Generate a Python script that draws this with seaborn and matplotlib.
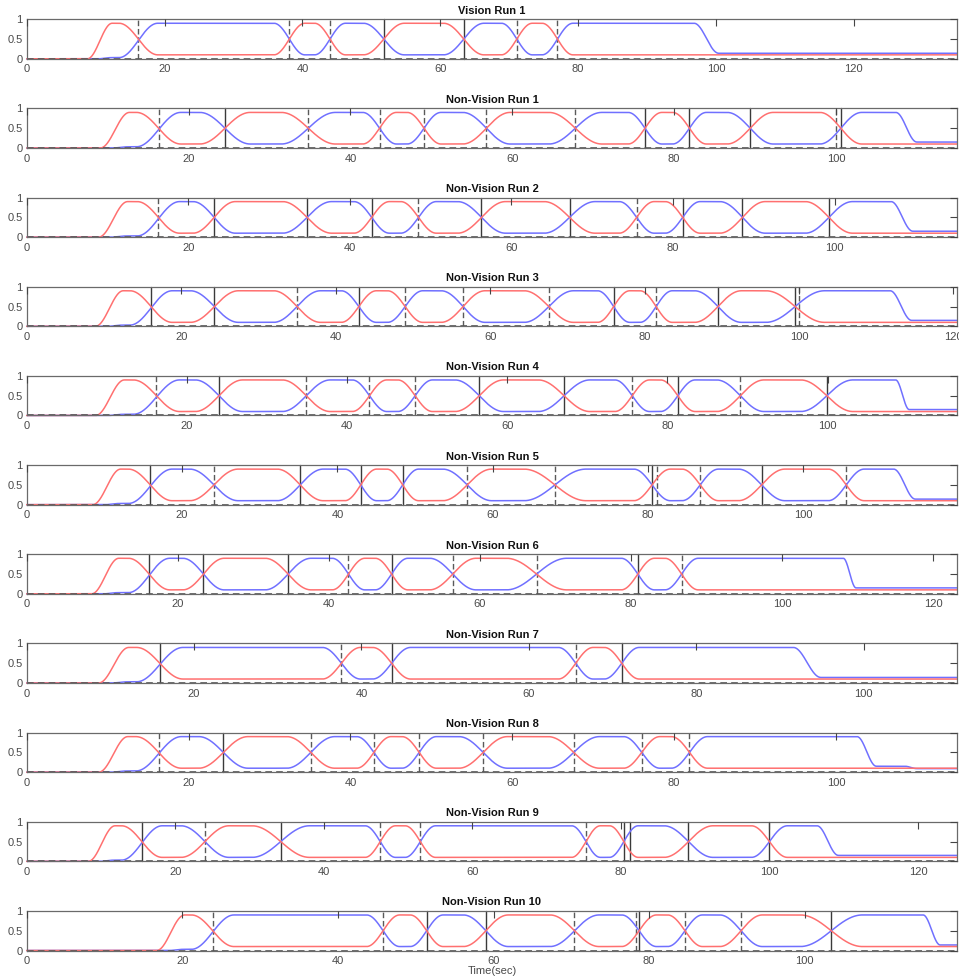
import numpy as np
import pandas as pd
import matplotlib
matplotlib.use("Agg")
import matplotlib.pyplot as plt
import seaborn as sns
from matplotlib.ticker import MultipleLocator, FuncFormatter

# ---------------- data ----------------
titles = ["Vision Run 1"] + [f"Non-Vision Run {k}" for k in range(1, 11)]

x_limits = [135.0, 115.0, 115.2, 120.5, 116.2, 119.8, 123.2, 111.2, 115.0, 125.3, 119.6]

# time at which the red probability starts rising from 0
rise_starts = [8.8, 9.1, 8.9, 8.9, 8.6, 8.5, 8.6, 8.6, 8.9, 8.3, 16.7]

# switching instants (red/blue crossing, marked by a vertical line)
switch_times = [
    [16.2, 38.1, 44.0, 51.8, 63.4, 71.1, 77.0],
    [16.3, 24.5, 34.8, 43.6, 49.1, 56.8, 67.8, 76.4, 81.9, 89.4, 100.6],
    [16.3, 23.2, 34.7, 42.7, 48.5, 56.3, 67.2, 75.5, 81.2, 88.6, 99.3],
    [16.1, 24.3, 35.0, 43.0, 49.0, 56.5, 67.6, 76.0, 81.5, 89.5, 99.5],
    [16.2, 24.0, 34.9, 42.8, 48.5, 56.5, 67.1, 75.6, 81.3, 89.1, 99.9],
    [15.9, 24.1, 35.2, 43.0, 48.4, 56.7, 68.0, 80.5, 86.7, 94.6, 105.5],
    [16.2, 23.4, 34.6, 42.6, 48.3, 56.4, 67.5, 80.9, 86.7],
    [15.9, 37.6, 43.6, 65.6, 71.1],
    [16.3, 24.3, 35.1, 42.9, 48.5, 56.4, 67.6, 76.0, 81.9],
    [15.5, 24.0, 34.2, 47.6, 53.0, 75.3, 80.4, 89.1, 100.0],
    [23.9, 45.8, 51.4, 59.0, 70.4, 78.7, 84.6, 91.8, 103.4],
]
# line style of each switch line: s = solid black, d = dashed grey
switch_styles = [
    "dddssdd",
    "dsdddddssss",
    "dsssdssdsss",
    "ssdsdddsdss",
    "dsdddssdsds",
    "sdsssddsdsd",
    "sssdsddsd",
    "sdsds",
    "dsddddddd",
    "sdsdddsss",
    "ddssdsdds",
]
# additional vertical lines that are not crossings
extra_line_times = [[], [100.0], [], [100.0], [], [81.1], [], [], [], [81.2], [78.3]]
extra_line_styles = [[], ["d"], [], ["d"], [], ["d"], [], [], [], ["s"], ["d"]]

# final decay(s) of the last active state: (start, end, level reached)
decay_starts = [[96.8], [107.4], [107.0], [111.8], [108.5], [111.6], [108.1], [91.6], [102.6, 108.5], [106.4], [115.2]]
decay_ends = [[100.4], [110.0], [109.7], [114.6], [110.2], [114.4], [109.8], [94.9], [105.0, 110.0], [109.3], [117.4]]
decay_levels = [[0.14], [0.15], [0.15], [0.15], [0.15], [0.14], [0.15], [0.14], [0.15, 0.09], [0.15], [0.14]]

HIGH, LOW = 0.9, 0.1
RED = "#ff7070"
BLUE = "#7070ff"

# ---------------- figure ----------------
sns.set_style("white")
plt.rcParams["font.family"] = ["Liberation Sans", "DejaVu Sans"]

W, H = 959, 980
fig = plt.figure(figsize=(W / 100, H / 100), dpi=100)

left_px, right_px = 26.7, 957.3
top0, pitch, hgt = 19.3, 89.17, 39.5


def smooth(u):
    u = np.clip(u, 0.0, 1.0)
    return 0.5 - 0.5 * np.cos(np.pi * u)


for i in range(len(titles)):
    top = top0 + pitch * i
    ax = fig.add_axes([left_px / W, 1 - (top + hgt) / H, (right_px - left_px) / W, hgt / H])
    ax.set_axisbelow(False)

    xmax = x_limits[i]
    t = np.linspace(0, xmax, 4000)
    rs = rise_starts[i]
    sw = switch_times[i]
    bounds = [rs] + sw + [decay_starts[i][0]]

    red = HIGH * smooth((t - rs) / 3.6)
    blue = 0.03 * smooth((t - (rs + 1.5)) / 2.0)
    for k, c in enumerate(sw):
        gap = min(bounds[k + 1] - bounds[k], bounds[k + 2] - bounds[k + 1])
        w = min(4.0, 0.38 * gap)
        s = smooth((t - (c - w)) / (2 * w))
        if k % 2 == 0:
            red -= (HIGH - LOW) * s
            blue += (HIGH - (0.03 if k == 0 else LOW)) * s
        else:
            red += (HIGH - LOW) * s
            blue -= (HIGH - LOW) * s
    level = HIGH
    blue_high = len(sw) % 2 == 1
    for d0, d1, lv in zip(decay_starts[i], decay_ends[i], decay_levels[i]):
        s = smooth((t - d0) / (d1 - d0))
        if blue_high:
            blue += (lv - level) * s
        else:
            red += (lv - level) * s
        level = lv

    df = pd.DataFrame({
        "t": np.concatenate([t, t]),
        "p": np.concatenate([blue, red]),
        "state": ["blue"] * len(t) + ["red"] * len(t),
    })

    # vertical switch lines
    for x, st in list(zip(sw, switch_styles[i])) + list(zip(extra_line_times[i], extra_line_styles[i])):
        if st == "s":
            ax.axvline(x, color="#3a3a3a", lw=1.0, zorder=1)
        else:
            ax.axvline(x, color="#5a5a5a", lw=1.0, ls=(0, (4, 2)), zorder=1)

    sns.lineplot(data=df, x="t", y="p", hue="state", hue_order=["blue", "red"],
                 palette={"blue": BLUE, "red": RED}, legend=False, ax=ax,
                 linewidth=1.1, estimator=None, sort=False, zorder=2)
    for ln in ax.lines:
        ln.set_clip_on(False)

    ax.axhline(0, color="#555555", lw=1.2, ls=(0, (4, 2.5)), zorder=2.2, clip_on=False)

    ax.set_xlim(0, xmax)
    ax.set_ylim(0, 1)
    ax.set_yticks([0, 0.5, 1])
    ax.set_yticklabels(["0", "0.5", "1"])
    ax.xaxis.set_major_locator(MultipleLocator(20))
    ax.xaxis.set_major_formatter(FuncFormatter(lambda v, p: f"{int(round(v))}"))
    ax.tick_params(direction="in", top=True, right=True, length=5, width=0.8,
                   color="#444444", labelcolor="#4a4a4a", labelsize=8)
    ax.tick_params(axis="x", pad=4)
    ax.tick_params(axis="y", pad=3)
    for sp in ax.spines.values():
        sp.set_color("#6a6a6a")
        sp.set_linewidth(0.9)
    ax.set_xlabel("")
    ax.set_ylabel("")
    ax.set_title(titles[i], fontsize=8, fontweight="bold", pad=4, color="#111111")
    if i == len(titles) - 1:
        ax.set_xlabel("Time(sec)", fontsize=8, color="#4a4a4a", labelpad=0)

fig.savefig("out.png", dpi=100)
